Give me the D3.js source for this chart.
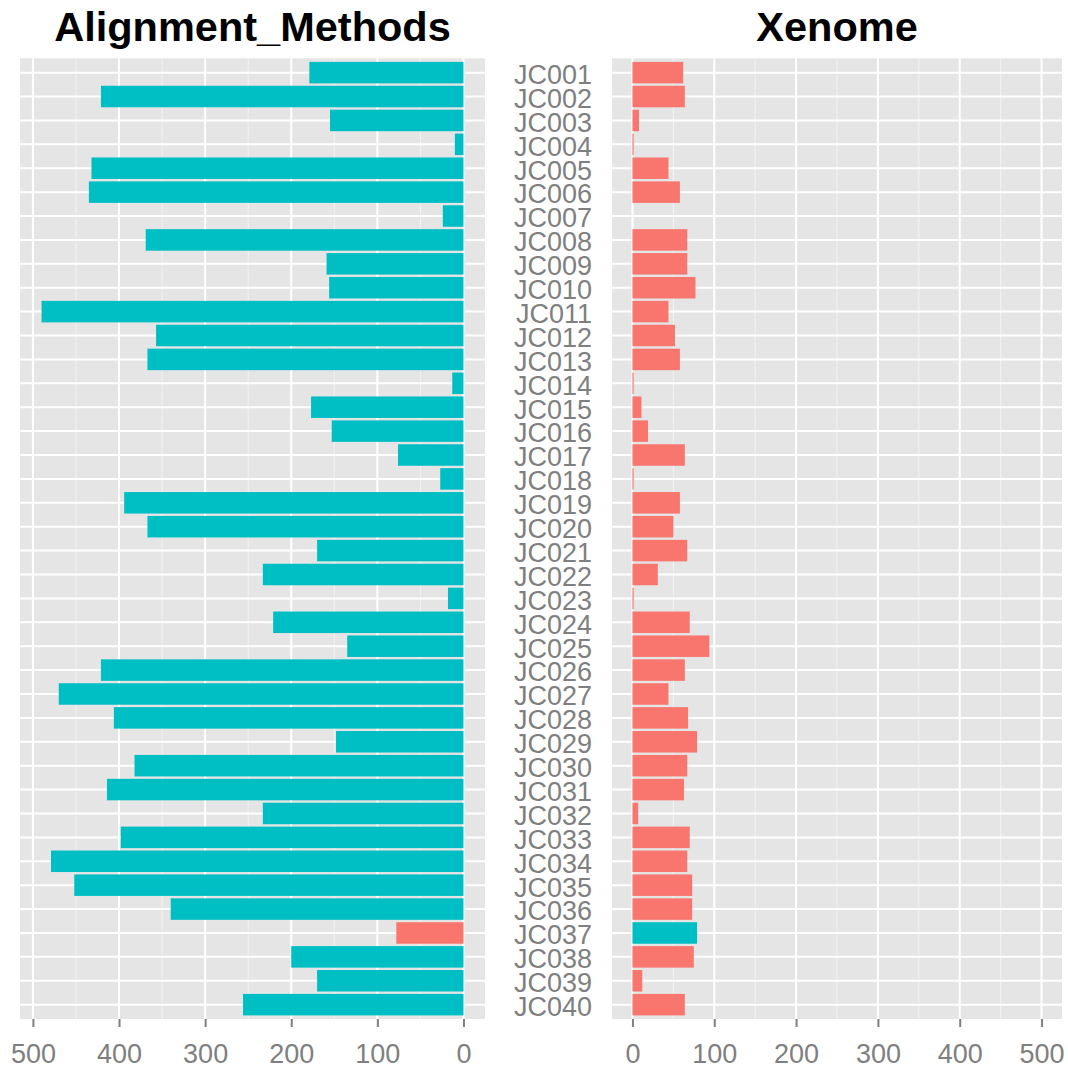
<!DOCTYPE html>
<html>
<head>
<meta charset="utf-8">
<script src="https://cdn.jsdelivr.net/npm/d3@7"></script>
<style>
  body { margin: 0; background: #fff; }
  svg text { font-family: "Liberation Sans", Arial, sans-serif; }
</style>
</head>
<body>
<svg class="chart"></svg>
<script>
// samples, top to bottom
var samples = ["JC001","JC002","JC003","JC004","JC005","JC006","JC007","JC008","JC009","JC010",
               "JC011","JC012","JC013","JC014","JC015","JC016","JC017","JC018","JC019","JC020",
               "JC021","JC022","JC023","JC024","JC025","JC026","JC027","JC028","JC029","JC030",
               "JC031","JC032","JC033","JC034","JC035","JC036","JC037","JC038","JC039","JC040"];

var alignmentValues = [179, 421, 155, 10, 432, 435, 24, 369, 159, 156,
                       490, 357, 367, 13, 177, 153, 76, 27, 394, 367,
                       170, 233, 18, 221, 135, 421, 470, 406, 148, 382,
                       414, 233, 398, 479, 452, 340, 78, 200, 170, 256];

var xenomeValues = [62, 64, 8, 1.5, 44, 58, 0, 67, 67, 77,
                    44, 52, 58, 1.5, 11, 19, 64, 1.5, 58, 50,
                    67, 31, 1.5, 70, 94, 64, 44, 68, 79, 67,
                    63, 7, 70, 67, 73, 73, 79, 75, 12, 64];

// group per sample: "a" = usual, "b" = the odd one
var groups = samples.map(s => s === "JC037" ? "b" : "a");

var ticks = [0, 100, 200, 300, 400, 500];
var minorTicks = [50, 150, 250, 350, 450];

var teal = "#00BFC4", salmon = "#F8766D";

var W = 1068, H = 1069;
var svg = d3.select(".chart").attr("width", W).attr("height", H);

var panelTop = 58.3, panelBottom = 1019;

var y = d3.scaleBand()
    .domain(samples)
    .range([panelTop, panelBottom])
    .paddingInner(0.1)
    .paddingOuter(0.15);

// left panel: reversed axis
var xLeft = d3.scaleLinear().domain([515, -25]).range([20, 485]);
// right panel
var xRight = d3.scaleLinear().domain([-25, 525]).range([612, 1062]);

function drawPanel(x, values, colorFor, title) {
  var g = svg.append("g");
  var r = x.range();
  var x0 = Math.min(r[0], r[1]), x1 = Math.max(r[0], r[1]);

  g.append("rect")
      .attr("x", x0).attr("y", panelTop)
      .attr("width", x1 - x0).attr("height", panelBottom - panelTop)
      .attr("fill", "#E5E5E5");

  // minor vertical grid
  g.selectAll(".minor").data(minorTicks).enter().append("line")
      .attr("x1", d => x(d)).attr("x2", d => x(d))
      .attr("y1", panelTop).attr("y2", panelBottom)
      .attr("stroke", "#F2F2F2").attr("stroke-width", 1);

  // major vertical grid
  g.selectAll(".major").data(ticks).enter().append("line")
      .attr("x1", d => x(d)).attr("x2", d => x(d))
      .attr("y1", panelTop).attr("y2", panelBottom)
      .attr("stroke", "#FFFFFF").attr("stroke-width", 2);

  // horizontal grid at categories
  g.selectAll(".hgrid").data(samples).enter().append("line")
      .attr("x1", x0).attr("x2", x1)
      .attr("y1", d => y(d) + y.bandwidth() / 2)
      .attr("y2", d => y(d) + y.bandwidth() / 2)
      .attr("stroke", "#FFFFFF").attr("stroke-width", 2);

  // bars
  g.selectAll(".bar").data(values).enter().append("rect")
      .attr("x", d => Math.min(x(0), x(d)))
      .attr("width", d => Math.abs(x(d) - x(0)))
      .attr("y", (d, i) => y(samples[i]))
      .attr("height", y.bandwidth())
      .attr("fill", (d, i) => colorFor(groups[i]));

  // x axis
  var axis = svg.append("g")
      .attr("transform", "translate(0," + panelBottom + ")")
      .call(d3.axisBottom(x).tickValues(ticks).tickSize(8).tickPadding(17).tickFormat(d3.format("d")));
  axis.select(".domain").remove();
  axis.selectAll(".tick line").attr("stroke", "#7F7F7F").attr("stroke-width", 2);
  axis.selectAll(".tick text")
      .attr("fill", "#7F7F7F")
      .style("font-size", "27px");

  svg.append("text")
      .attr("x", (x0 + x1) / 2)
      .attr("y", 41)
      .attr("text-anchor", "middle")
      .style("font-size", "41.5px")
      .style("font-weight", "bold")
      .attr("fill", "#000")
      .text(title);
}

drawPanel(xLeft, alignmentValues, gr => gr === "a" ? teal : salmon, "Alignment_Methods");
drawPanel(xRight, xenomeValues, gr => gr === "a" ? salmon : teal, "Xenome");

// sample labels between the panels
svg.append("g").selectAll("text").data(samples).enter().append("text")
    .attr("x", 592)
    .attr("y", d => y(d) + y.bandwidth() / 2)
    .attr("dy", "0.42em")
    .attr("text-anchor", "end")
    .attr("fill", "#7F7F7F")
    .style("font-size", "27px")
    .text(d => d);
</script>
</body>
</html>
